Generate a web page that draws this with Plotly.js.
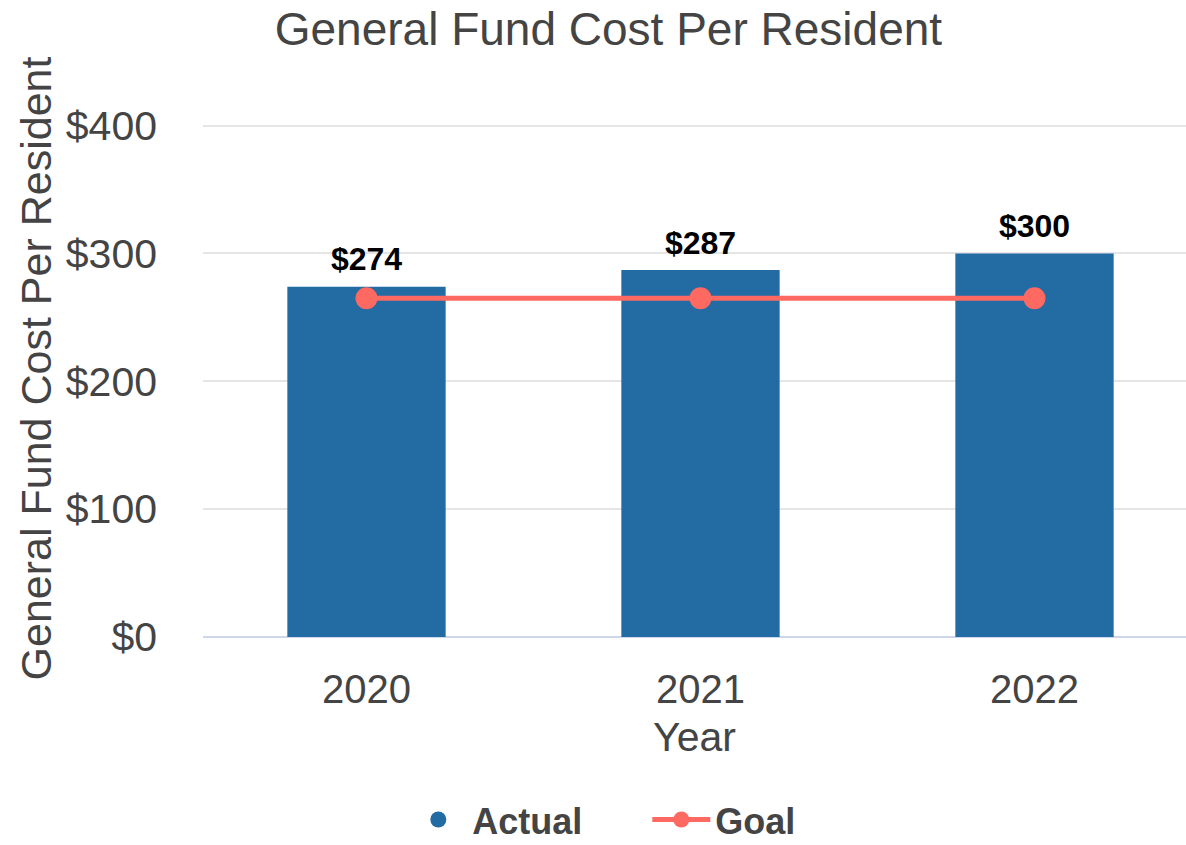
<!DOCTYPE html>
<html>
<head>
<meta charset="utf-8">
<script src="https://cdn.plot.ly/plotly-3.0.1.min.js"></script>
<style>html,body{margin:0;padding:0;background:#fff;}#chart{width:1186px;height:845px;}</style>
</head>
<body>
<div id="chart"></div>
<script>
const years = ["2020", "2021", "2022"];
const actual = [274, 287, 300];
const goal = [265, 265, 265];
const labels = ["\u0024274", "\u0024287", "\u0024300"];
const yTickVals = [0, 100, 200, 300, 400];
const yTickText = ["\u00240", "\u0024100", "\u0024200", "\u0024300", "\u0024400"];

const FONT = "Liberation Sans, Arial, sans-serif";

const traces = [
  {
    type: "bar",
    x: years,
    y: actual,
    name: "Actual",
    width: 0.474,
    marker: {color: "#236ba3"},
    showlegend: false
  },
  {
    type: "scatter",
    mode: "markers+text",
    x: years,
    y: actual,
    text: labels,
    texttemplate: "<b>%{text}</b>",
    textposition: "top center",
    textfont: {family: FONT, size: 32, color: "#000"},
    marker: {size: 12, opacity: 0, color: "#fff"},
    cliponaxis: false,
    showlegend: false
  },
  {
    type: "scatter",
    mode: "markers",
    x: [null],
    y: [null],
    name: "Actual",
    marker: {color: "#236ba3", size: 30, symbol: "circle"},
    showlegend: true
  },
  {
    type: "scatter",
    mode: "lines+markers",
    x: years,
    y: goal,
    name: "Goal",
    line: {color: "#fe6a61", width: 5},
    marker: {color: "#fe6a61", size: 22}
  }
];

const layout = {
  width: 1186, height: 845,
  margin: {l: 203, r: 0, t: 100, b: 208, autoexpand: false},
  paper_bgcolor: "#fff", plot_bgcolor: "#fff",
  font: {family: FONT, color: "#444"},
  title: {
    text: "General Fund Cost Per Resident",
    xref: "container", x: 0.513, xanchor: "center",
    yref: "container", y: 1 - 29/845, yanchor: "middle",
    font: {family: FONT, size: 46, color: "#444"},
    automargin: false
  },
  xaxis: {
    type: "category",
    range: [-0.4895, 2.4536],
    automargin: false,
    title: {text: "Year", font: {family: FONT, size: 41, color: "#444"}, standoff: 12},
    tickfont: {family: FONT, size: 40, color: "#444"},
    showgrid: false, zeroline: false, showline: false,
    ticklabelstandoff: 25
  },
  yaxis: {
    range: [0, 420],
    automargin: false,
    tickmode: "array",
    tickvals: yTickVals,
    ticktext: yTickText,
    tickfont: {family: FONT, size: 41, color: "#444"},
    title: {text: "General Fund Cost Per Resident", font: {family: FONT, size: 43, color: "#444"}, standoff: 0},
    gridcolor: "#e5e5e5", gridwidth: 2,
    zeroline: true, zerolinecolor: "#cdd6ea", zerolinewidth: 2,
    showline: false,
    ticklabelstandoff: 45
  },
  legend: {
    orientation: "h",
    x: 0.452, xanchor: "center",
    y: -0.34, yanchor: "middle",
    font: {family: FONT, size: 36, color: "#444", weight: "bold"},
    entrywidth: 170,
    itemwidth: 58,
    itemsizing: "trace"
  },
  hovermode: false
};

Plotly.newPlot("chart", traces, layout, {displayModeBar: false, staticPlot: true});
</script>
</body>
</html>
